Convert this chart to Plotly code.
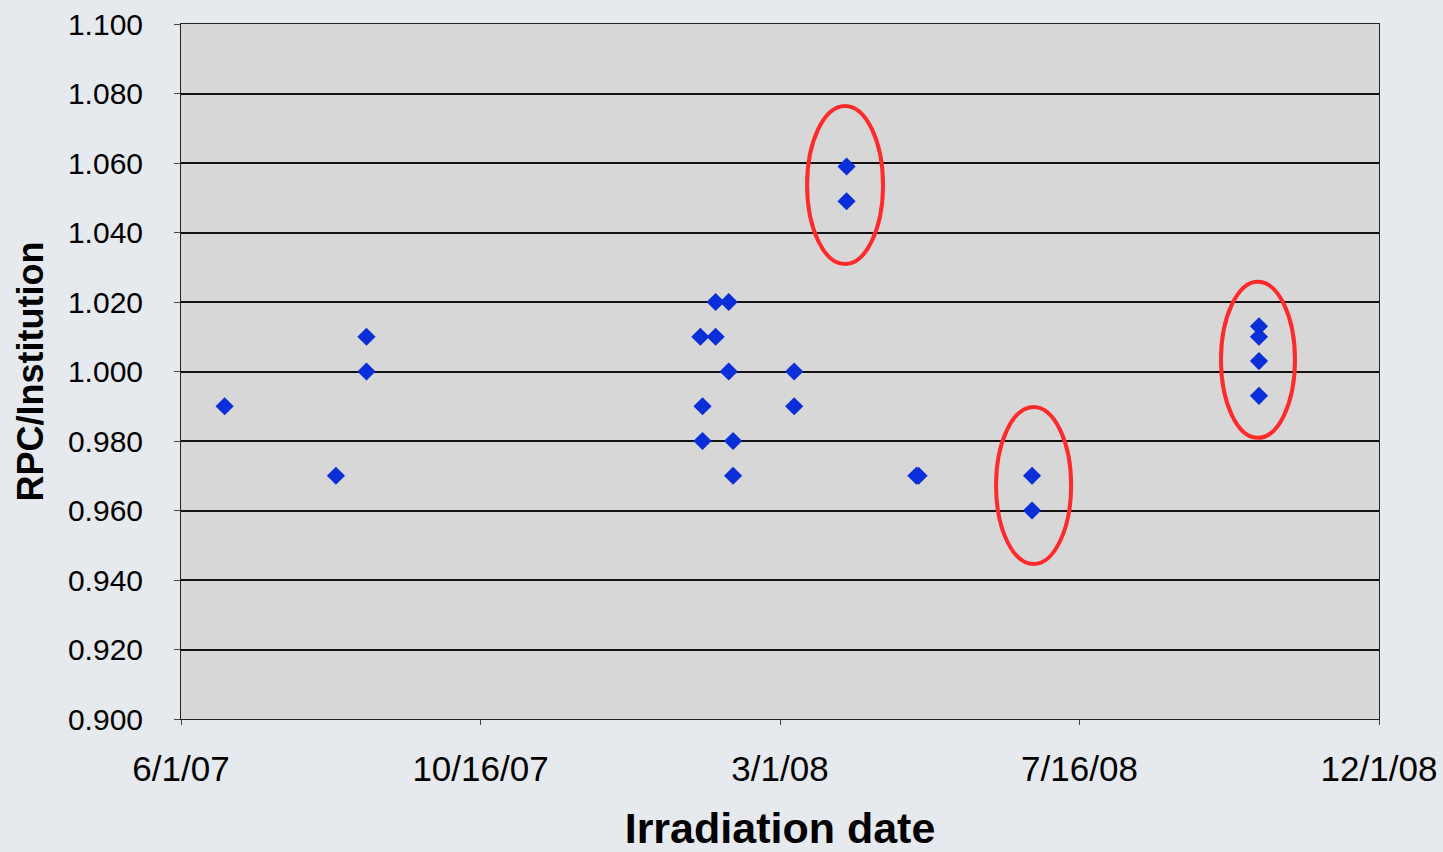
import plotly.graph_objects as go

# ---- data ----
irradiation_dates = [
    "2007-06-21", "2007-08-11", "2007-08-25", "2007-08-25",
    "2008-01-25", "2008-01-26", "2008-01-26",
    "2008-02-01", "2008-02-01", "2008-02-07", "2008-02-07",
    "2008-02-09", "2008-02-09",
    "2008-03-08", "2008-03-08",
    "2008-04-01", "2008-04-01",
    "2008-05-03", "2008-05-04",
    "2008-06-25", "2008-06-25",
    "2008-10-07", "2008-10-07", "2008-10-07", "2008-10-07",
]
rpc_ratio = [
    0.990, 0.970, 1.010, 1.000,
    1.010, 0.990, 0.980,
    1.020, 1.010, 1.020, 1.000,
    0.980, 0.970,
    1.000, 0.990,
    1.059, 1.049,
    0.970, 0.970,
    0.970, 0.960,
    1.013, 1.010, 1.003, 0.993,
]

x_tick_dates = ["2007-06-01", "2007-10-16 06:00", "2008-03-01 12:00", "2008-07-16 18:00", "2008-12-01"]
x_tick_labels = ["6/1/07", "10/16/07", "3/1/08", "7/16/08", "12/1/08"]
y_tick_values = [0.90, 0.92, 0.94, 0.96, 0.98, 1.00, 1.02, 1.04, 1.06, 1.08, 1.10]
y_tick_labels = ["0.900", "0.920", "0.940", "0.960", "0.980", "1.000",
                 "1.020", "1.040", "1.060", "1.080", "1.100"]

# highlighted clusters (ellipse bounds in data space)
highlight_x0 = ["2008-03-13 22:00", "2008-06-08 12:00", "2008-09-19 14:00"]
highlight_x1 = ["2008-04-17 17:00", "2008-07-12 22:00", "2008-10-23 12:00"]
highlight_y0 = [1.0309, 0.9446, 0.9809]
highlight_y1 = [1.0764, 0.9898, 1.0258]

FONT = "Liberation Sans, Arial, Helvetica, sans-serif"

fig = go.Figure()
fig.add_trace(go.Scatter(
    x=irradiation_dates, y=rpc_ratio, mode="markers",
    marker=dict(symbol="diamond", size=14, color="#0a2ed8", line=dict(width=0)),
    showlegend=False, cliponaxis=False,
))

for x0, x1, y0, y1 in zip(highlight_x0, highlight_x1, highlight_y0, highlight_y1):
    fig.add_shape(type="circle", xref="x", yref="y", x0=x0, x1=x1, y0=y0, y1=y1,
                  line=dict(color="#ff2a2a", width=4), fillcolor="rgba(0,0,0,0)")

fig.update_layout(
    width=1443, height=852,
    margin=dict(l=181, r=64, t=24, b=133),
    paper_bgcolor="#e6e9ed",
    plot_bgcolor="#d7d7d7",
    font=dict(family=FONT, color="black"),
    showlegend=False,
)
fig.update_xaxes(
    type="date",
    range=["2007-06-01", "2008-12-01"],
    automargin=False,
    tickmode="array", tickvals=x_tick_dates, ticktext=x_tick_labels,
    tickfont=dict(size=35, family=FONT, color="black"),
    showgrid=False, zeroline=False,
    showline=True, linecolor="#222", linewidth=1, mirror=True,
    ticks="outside", ticklen=5, tickcolor="#444", tickwidth=1,
    ticklabelstandoff=14,
    title=dict(text="<b>Irradiation date</b>", font=dict(size=43, family=FONT, color="black"),
               standoff=30),
)
fig.update_yaxes(
    range=[0.9, 1.1],
    automargin=False,
    tickmode="array", tickvals=y_tick_values, ticktext=y_tick_labels,
    tickfont=dict(size=30, family=FONT, color="black"),
    showgrid=True, gridcolor="#111", gridwidth=1.6, zeroline=False,
    showline=True, linecolor="#222", linewidth=1, mirror=True,
    ticks="outside", ticklen=6, tickcolor="#444", tickwidth=1,
    ticklabelstandoff=25,
    title=dict(text="<b>RPC/Institution</b>", font=dict(size=36, family=FONT, color="black"),
               standoff=13),
)

fig.write_html(
    "out.html",
    config={"displayModeBar": False},
    post_script="document.body.style.margin='0';document.body.style.overflow='hidden';",
)
